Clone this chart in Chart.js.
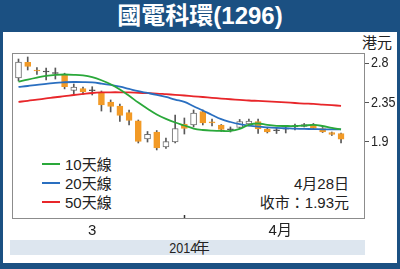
<!DOCTYPE html>
<html>
<head>
<meta charset="utf-8">
<script src="https://cdn.jsdelivr.net/npm/chart.js@4/dist/chart.umd.min.js"></script>
<style>
  html, body { margin: 0; padding: 0; }
  body {
    width: 400px; height: 269px; position: relative; overflow: hidden;
    background: #1b5082;
    font-family: 'Liberation Sans', 'Noto Sans CJK TC', sans-serif;
    color: #222;
  }
  #title {
    position: absolute; left: 0; top: 0; width: 400px; height: 32px; line-height: 32px;
    text-align: center; color: #fff; font-weight: bold; font-size: 24px;
    font-family: 'Liberation Sans', 'Noto Sans CJK TC', sans-serif;
  }
  #panel { position: absolute; left: 3px; top: 32px; width: 394px; height: 231px; background: #fff; }
  #band  { position: absolute; left: 10px; top: 240px; width: 355px; height: 15px; background: #dde6ef; }
  .t { position: absolute; font-size: 15px; line-height: 15px; white-space: nowrap; }
  .n { display: inline-block; transform: scaleX(0.84); }
  .key { position: absolute; left: 42px; width: 18px; height: 2px; }
  canvas { position: absolute; left: 0; top: 0; }
</style>
</head>
<body>
<div id="title">國電科環(1296)</div>
<div id="panel"></div>
<div id="band"></div>
<div class="t" style="left:0;width:400px;top:240px;text-align:center;margin-left:-13px;"><span class="n" style="transform-origin:right;margin-right:-3px;">2014</span>年</div>
<div class="t" style="left:362px;top:35px;">港元</div>

<div class="key" style="top:163px;background:#2aa83a;"></div>
<div class="key" style="top:182px;background:#2a6fc0;"></div>
<div class="key" style="top:201px;background:#e8262a;"></div>
<div class="t" style="left:65px;top:157px;">10天線</div>
<div class="t" style="left:65px;top:176px;">20天線</div>
<div class="t" style="left:65px;top:195px;">50天線</div>
<div class="t" style="right:51px;top:176px;">4月28日</div>
<div class="t" style="right:51px;top:195px;">收市：1.93元</div>

<canvas id="c" width="400" height="269"></canvas>

<script>
// Daily prices, one entry per trading session (HK$)
const opens  = [2.631, 2.810, 2.723, 2.700, 2.683, 2.674, 2.488, 2.511, 2.485, 2.470,
                2.356, 2.310, 2.235, 2.138, 1.931, 2.011, 1.839, 1.896, 2.103, 2.092,
                2.247, 2.126, 2.092, 2.037, 2.063, 2.103, 2.132, 2.046, 2.026, 2.043,
                2.071, 2.074, 2.097, 2.051, 2.005, 1.994];
const highs  = [2.849, 2.872, 2.752, 2.746, 2.746, 2.686, 2.562, 2.528, 2.531, 2.482,
                2.379, 2.333, 2.264, 2.149, 2.017, 2.028, 1.942, 2.206, 2.172, 2.264,
                2.264, 2.160, 2.097, 2.069, 2.155, 2.160, 2.160, 2.057, 2.057, 2.069,
                2.103, 2.109, 2.109, 2.063, 2.011, 2.000];
const lows   = [2.597, 2.723, 2.671, 2.608, 2.619, 2.506, 2.436, 2.442, 2.436, 2.252,
                2.241, 2.132, 2.092, 1.885, 1.896, 1.805, 1.822, 1.885, 1.988, 2.069,
                2.092, 2.080, 2.017, 2.011, 2.051, 2.080, 1.994, 2.000, 1.994, 2.000,
                2.034, 2.069, 2.046, 2.005, 1.971, 1.885];
const closes = [2.815, 2.763, 2.711, 2.700, 2.683, 2.531, 2.528, 2.470, 2.485, 2.321,
                2.304, 2.201, 2.143, 1.902, 1.983, 1.828, 1.902, 2.051, 2.051, 2.229,
                2.115, 2.115, 2.040, 2.037, 2.132, 2.137, 2.046, 2.011, 2.026, 2.043,
                2.071, 2.097, 2.051, 2.011, 1.983, 1.930];

// Moving averages
const ma10 = [2.588, 2.613, 2.636, 2.656, 2.668, 2.671, 2.668, 2.660, 2.640, 2.605,
              2.559, 2.499, 2.427, 2.349, 2.278, 2.212, 2.161, 2.120, 2.086, 2.051,
              2.034, 2.026, 2.023, 2.025, 2.048, 2.094, 2.109, 2.092, 2.082, 2.080,
              2.080, 2.085, 2.092, 2.080, 2.059, 2.040];
const ma20 = [2.528, 2.539, 2.552, 2.563, 2.576, 2.582, 2.585, 2.584, 2.580, 2.567,
              2.551, 2.531, 2.505, 2.479, 2.459, 2.438, 2.413, 2.384, 2.358, 2.307,
              2.258, 2.206, 2.158, 2.126, 2.101, 2.084, 2.072, 2.064, 2.058, 2.054,
              2.049, 2.046, 2.045, 2.042, 2.042, 2.042];
const ma50 = [2.357, 2.369, 2.383, 2.396, 2.410, 2.422, 2.436, 2.448, 2.459, 2.465,
              2.467, 2.467, 2.465, 2.461, 2.457, 2.452, 2.445, 2.438, 2.430, 2.421,
              2.413, 2.404, 2.395, 2.387, 2.380, 2.373, 2.368, 2.363, 2.357, 2.351,
              2.344, 2.338, 2.333, 2.326, 2.319, 2.312];

// Axis ticks
const priceTicks   = [1.9, 2.35, 2.8];
const monthLabels  = ['3', '4月'];
const monthLabelAt = [8, 28.4];   // session index under each month label
const aprilStart   = 18;          // first April session

const FONT = "'Liberation Sans', 'Noto Sans CJK TC', sans-serif";
const DOWN = '#f29a26', UP_FILL = '#ffffff', UP_EDGE = '#6e6e6e', FLAT = '#4a4a4a', WICK = '#585858';

const sessions = opens.map((_, i) => i);
const bodies = sessions.map(i => ({ x: i, y: [opens[i], closes[i]] }));
const wicks  = sessions.map(i => ({ x: i, y: [lows[i], highs[i]] }));
const series = arr => arr.map((v, i) => ({ x: i, y: v }));

const bodyFill = ctx => {
  const i = ctx.dataIndex;
  if (closes[i] === opens[i]) return FLAT;
  return closes[i] < opens[i] ? DOWN : UP_FILL;
};
const bodyEdge = ctx => {
  const i = ctx.dataIndex;
  if (closes[i] === opens[i]) return FLAT;
  return closes[i] < opens[i] ? DOWN : UP_EDGE;
};

// Grey frame round the plotting area
const frame = {
  id: 'frame',
  afterDatasetsDraw(chart) {
    const { ctx, chartArea: a } = chart;
    ctx.save();
    ctx.strokeStyle = '#8c8c8c';
    ctx.lineWidth = 1;
    ctx.strokeRect(Math.round(a.left) + 0.5, Math.round(a.top) + 0.5,
                   Math.round(a.right - a.left) - 1, Math.round(a.bottom - a.top) - 1);
    ctx.restore();
  }
};

// Narrow the left-aligned price labels on the right axis
const Y_TICK_LEN = 4, Y_PAD = 2, Y_SQUEEZE = 0.84;
const narrowLabels = s => {
  if (s._narrowed) return;
  const draw = s.drawLabels.bind(s);
  s.drawLabels = area => {
    const x0 = s.left + Y_TICK_LEN + Y_PAD;
    s.ctx.save();
    s.ctx.translate(x0, 0);
    s.ctx.scale(Y_SQUEEZE, 1);
    s.ctx.translate(-x0, 0);
    draw(area);
    s.ctx.restore();
  };
  s._narrowed = true;
};

const maLine = (label, data, color) => ({
  type: 'line', label, data, borderColor: color, borderWidth: 1.8,
  pointRadius: 0, tension: 0.4, fill: false, order: 0
});

new Chart(document.getElementById('c'), {
  type: 'bar',
  data: {
    datasets: [
      maLine('10天線', series(ma10), '#2aa83a'),
      maLine('20天線', series(ma20), '#2a6fc0'),
      maLine('50天線', series(ma50), '#e8262a'),
      { label: 'body', data: bodies, barThickness: 6, minBarLength: 1, grouped: false,
        borderSkipped: false, borderWidth: 1, backgroundColor: bodyFill, borderColor: bodyEdge, order: 1 },
      { label: 'wick', data: wicks, barThickness: 1, grouped: false,
        borderWidth: 0, backgroundColor: WICK, order: 2 }
    ]
  },
  options: {
    responsive: false,
    animation: false,
    layout: { padding: { left: 12, top: 53, right: 0, bottom: 20 } },
    plugins: { legend: { display: false }, tooltip: { enabled: false } },
    scales: {
      x: {
        type: 'linear', min: -0.705, max: 37.6, offset: false,
        border: { display: false },
        grid: {
          drawOnChartArea: false, offset: false, tickLength: -4, tickWidth: 1.5,
          tickColor: c => (c.tick && c.tick.value === aprilStart) ? '#333' : 'rgba(0,0,0,0)'
        },
        afterBuildTicks: s => {
          s.ticks = [monthLabelAt[0], aprilStart, monthLabelAt[1]].map(v => ({ value: v }));
        },
        ticks: {
          autoSkip: false, maxRotation: 0, padding: 7, color: '#222',
          font: { size: 15, family: FONT },
          callback: v => { const k = monthLabelAt.indexOf(v); return k >= 0 ? monthLabels[k] : ''; }
        },
        afterFit: s => { s.height = 30; }
      },
      y: {
        position: 'right', min: 1.0125, max: 2.918,
        border: { display: false },
        grid: { drawOnChartArea: false, tickLength: Y_TICK_LEN, color: '#555' },
        afterBuildTicks: s => { s.ticks = priceTicks.map(v => ({ value: v })); },
        ticks: { padding: Y_PAD, color: '#222', font: { size: 15, family: FONT }, callback: v => String(v) },
        afterFit: s => { s.width = 35; },
        afterUpdate: narrowLabels
      }
    }
  },
  plugins: [frame]
});
</script>
</body>
</html>
